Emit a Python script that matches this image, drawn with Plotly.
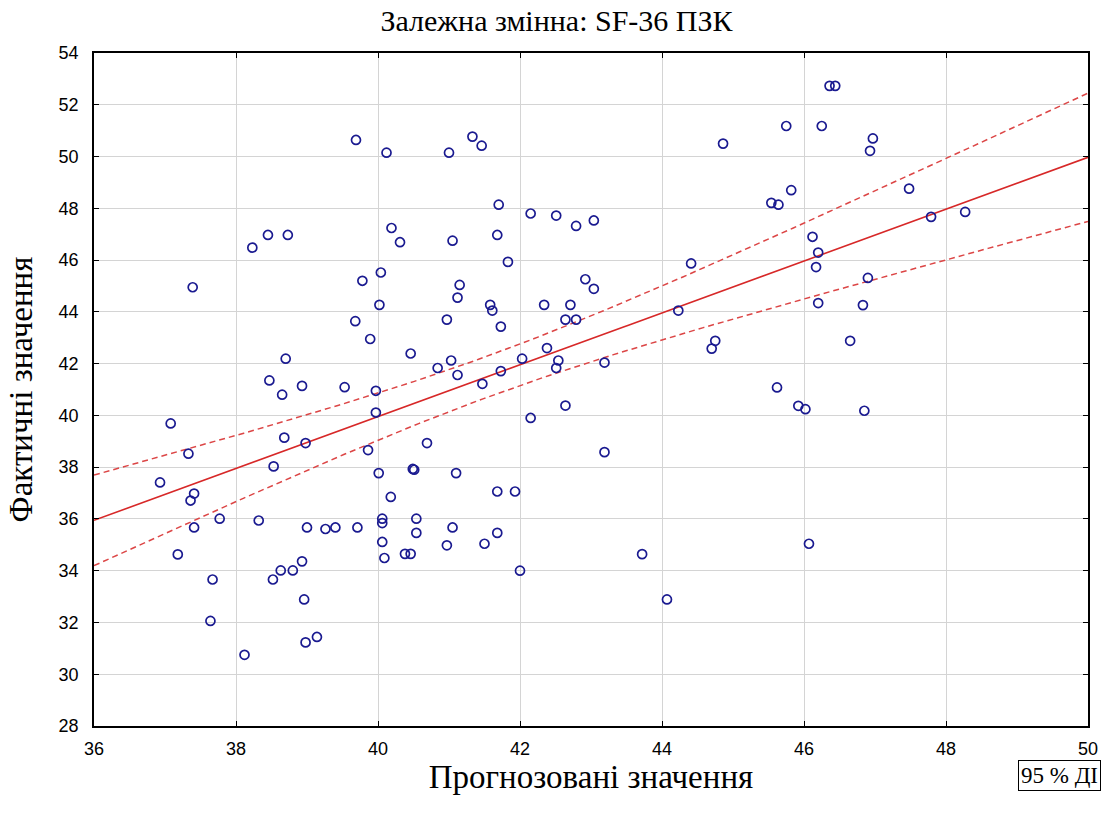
import numpy as np
import plotly.graph_objects as go

pred = [38.23, 38.45, 38.73, 39.69, 40.12, 41.00, 41.33, 41.46, 41.70, 42.15,
        42.51, 42.79, 40.19, 40.31, 41.05, 41.68, 41.83, 40.04, 39.78, 42.92,
        43.04, 44.86, 45.75, 46.25, 46.36, 46.44, 45.82, 45.54, 45.64, 46.12,
        46.20, 46.17, 44.41, 46.97, 46.93, 47.48, 47.79, 48.27, 46.90, 37.39,
        37.08, 37.33, 36.93, 37.41, 37.36, 38.70, 38.47, 38.93, 38.65, 38.68,
        38.98, 38.53, 41.15, 41.12, 40.02, 41.58, 41.61, 41.73, 40.97, 39.68,
        39.89, 40.46, 41.03, 40.84, 41.12, 41.73, 41.47, 42.03, 42.34, 42.71,
        42.64, 42.79, 42.38, 42.54, 42.51, 42.64, 42.15, 39.53, 39.97, 39.97,
        39.86, 40.69, 40.01, 40.49, 40.51, 41.10, 41.68, 41.93, 40.18, 43.04,
        44.23, 44.75, 44.70, 43.19, 46.20, 45.62, 45.92, 46.02, 43.19, 46.83,
        46.65, 46.85, 37.77, 37.41, 37.18, 37.67, 37.64, 38.12, 38.32, 39.00,
        39.26, 39.40, 38.52, 38.63, 38.80, 38.93, 38.96, 38.98, 39.14, 39.71,
        40.06, 40.06, 40.54, 40.54, 41.05, 40.06, 40.09, 40.38, 40.46, 40.97,
        41.50, 41.68, 42.00, 43.72, 44.07, 46.07]
actual = [46.48, 46.97, 46.97, 50.64, 50.15, 50.15, 50.77, 50.42, 48.14, 47.80,
          47.72, 47.32, 47.24, 46.69, 46.75, 46.97, 45.93, 45.52, 45.20, 45.26,
          47.53, 50.50, 51.18, 51.18, 52.73, 52.73, 48.70, 48.21, 48.14, 46.90,
          46.29, 45.73, 45.87, 50.70, 50.22, 48.76, 47.67, 47.86, 45.31, 44.95,
          39.69, 38.52, 37.41, 36.98, 36.71, 42.19, 41.35, 41.14, 40.80, 39.14,
          38.93, 38.03, 45.04, 44.55, 44.27, 44.27, 44.05, 43.43, 43.70, 43.64,
          42.95, 42.39, 42.12, 41.83, 41.56, 41.71, 41.22, 42.19, 44.27, 44.27,
          43.70, 43.70, 42.60, 42.12, 41.83, 40.38, 39.90, 41.09, 40.95, 40.11,
          38.66, 38.93, 37.77, 37.93, 37.90, 37.77, 37.06, 37.06, 36.85, 44.89,
          44.05, 42.88, 42.58, 42.04, 44.34, 41.08, 40.37, 40.24, 38.58, 44.26,
          42.88, 40.18, 36.01, 35.67, 34.63, 33.66, 32.06, 30.75, 35.94, 35.67,
          35.61, 35.67, 33.66, 34.01, 34.01, 34.36, 32.89, 31.23, 31.44, 35.67,
          36.01, 35.84, 36.01, 35.46, 35.67, 35.11, 34.49, 34.65, 34.65, 34.98,
          35.04, 35.46, 34.00, 34.64, 32.89, 35.04]

x_ticks = [36, 38, 40, 42, 44, 46, 48, 50]
y_ticks = list(range(28, 55, 2))

title_text = "Залежна змінна: SF-36 ПЗК"
x_title = "Прогнозовані значення"
y_title = "Фактичні значення"
legend_text = "95 % ДІ"

x = np.array(pred)
y = np.array(actual)
n = len(x)
xm = x.mean()
Sxx = ((x - xm) ** 2).sum()
slope = ((x - xm) * (y - y.mean())).sum() / Sxx
intercept = y.mean() - slope * xm
resid = y - (intercept + slope * x)
s = np.sqrt((resid ** 2).sum() / (n - 2))
t_crit = 1.978

xx = np.linspace(36, 50, 200)
yy = intercept + slope * xx
half = t_crit * s * np.sqrt(1 / n + (xx - xm) ** 2 / Sxx)

serif = "Liberation Serif, Times New Roman"
fig = go.Figure()
fig.add_trace(go.Scatter(x=xx, y=yy + half, mode="lines",
                         line=dict(color="rgb(220,70,70)", width=1.5, dash="6px,4px"),
                         showlegend=False, hoverinfo="skip"))
fig.add_trace(go.Scatter(x=xx, y=yy - half, mode="lines",
                         line=dict(color="rgb(220,70,70)", width=1.5, dash="6px,4px"),
                         showlegend=False, hoverinfo="skip"))
fig.add_trace(go.Scatter(x=xx, y=yy, mode="lines",
                         line=dict(color="rgb(215,40,40)", width=1.6),
                         showlegend=False, hoverinfo="skip"))
fig.add_trace(go.Scatter(x=pred, y=actual, mode="markers",
                         marker=dict(symbol="circle-open", size=9, color="#1a1a90",
                                     line=dict(width=1.7, color="#1a1a90")),
                         showlegend=False))

axis_common = dict(showline=True, linecolor="black", linewidth=1.5, mirror="ticks",
                   ticks="inside", ticklen=5, tickcolor="black",
                   showgrid=True, gridcolor="#d4d4d4", gridwidth=1, zeroline=False,
                   tickfont=dict(family="Liberation Sans, Arial", size=18, color="black"))

fig.update_layout(
    width=1113, height=820,
    margin=dict(l=94, r=25, t=53, b=94),
    paper_bgcolor="white", plot_bgcolor="white",
    title=dict(text=title_text, x=0.5, xanchor="center", y=1 - 20 / 820, yanchor="middle",
               font=dict(family=serif, size=30, color="black")),
    xaxis=dict(range=[36, 50], tickvals=x_ticks, ticklabelstandoff=6, **axis_common,
               title=dict(text=x_title, standoff=4,
                          font=dict(family=serif, size=33, color="black"))),
    yaxis=dict(range=[28, 54], tickvals=y_ticks, ticklabelstandoff=10, **axis_common,
               title=dict(text=y_title, standoff=16,
                          font=dict(family=serif, size=33, color="black"))),
    annotations=[dict(text=legend_text, xref="paper", yref="paper",
                      x=0.971, y=-0.0735, xanchor="center", yanchor="middle",
                      showarrow=False, bordercolor="black", borderwidth=1, borderpad=2,
                      bgcolor="white",
                      font=dict(family=serif, size=23, color="black"))],
)

fig.write_html("out.html")
